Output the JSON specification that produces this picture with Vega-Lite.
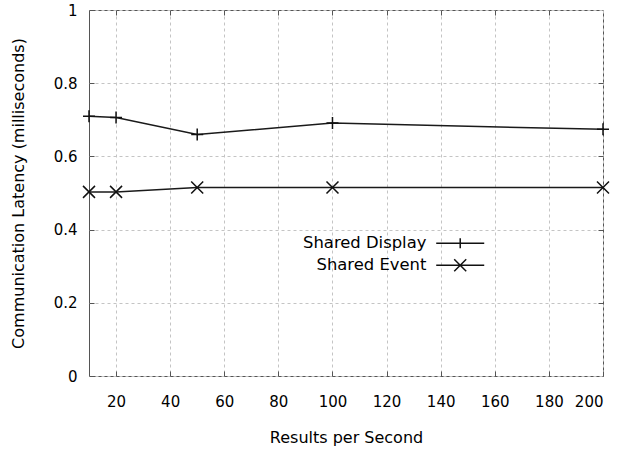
{
  "$schema": "https://vega.github.io/schema/vega-lite/v6.json",
  "width": 514,
  "height": 366,
  "autosize": {"type": "none"},
  "padding": {"left": 89, "top": 10, "right": 19, "bottom": 73},
  "background": "white",
  "config": {
    "font": "DejaVu Sans",
    "view": {"stroke": "#555", "strokeWidth": 1},
    "axis": {
      "grid": false,
      "gridColor": "#c4c4c4",
      "gridDash": [3, 3],
      "gridWidth": 1,
      "domain": false,
      "tickColor": "#555",
      "labelColor": "#000",
      "labelFontSize": 15,
      "titleFontSize": 16,
      "titleFontWeight": "normal",
      "titleColor": "#000"
    }
  },
  "data": {
    "values": [
      {"rate": 10, "latency": 0.710, "series": "Shared Display"},
      {"rate": 20, "latency": 0.706, "series": "Shared Display"},
      {"rate": 50, "latency": 0.660, "series": "Shared Display"},
      {"rate": 100, "latency": 0.691, "series": "Shared Display"},
      {"rate": 200, "latency": 0.674, "series": "Shared Display"},
      {"rate": 10, "latency": 0.503, "series": "Shared Event"},
      {"rate": 20, "latency": 0.503, "series": "Shared Event"},
      {"rate": 50, "latency": 0.515, "series": "Shared Event"},
      {"rate": 100, "latency": 0.515, "series": "Shared Event"},
      {"rate": 200, "latency": 0.515, "series": "Shared Event"}
    ]
  },
  "resolve": {
    "axis": {"x": "independent", "y": "independent"},
    "scale": {"shape": "independent"}
  },
  "layer": [
    {
      "mark": {"type": "line", "color": "#1a1a1a", "strokeWidth": 1.5},
      "encoding": {
        "x": {
          "field": "rate",
          "type": "quantitative",
          "scale": {"domain": [10, 200], "nice": false, "zero": false},
          "axis": {
            "title": "Results per Second",
            "values": [20, 40, 60, 80, 100, 120, 140, 160, 180, 200],
            "grid": true,
            "tickSize": -5,
            "labelPadding": 23,
            "titlePadding": 20
          }
        },
        "y": {
          "field": "latency",
          "type": "quantitative",
          "scale": {"domain": [0, 1], "nice": false},
          "axis": {
            "title": "Communication Latency (milliseconds)",
            "values": [0, 0.2, 0.4, 0.6, 0.8, 1],
            "format": "~g",
            "grid": true,
            "tickSize": -5,
            "labelPadding": 17,
            "titlePadding": 27
          }
        },
        "detail": {"field": "series"}
      }
    },
    {
      "mark": {"type": "point", "filled": false, "color": "#111", "strokeWidth": 1.5, "size": 144, "opacity": 1},
      "encoding": {
        "x": {"field": "rate", "type": "quantitative", "axis": null},
        "y": {"field": "latency", "type": "quantitative", "axis": null},
        "shape": {
          "field": "series",
          "type": "nominal",
          "scale": {
            "domain": ["Shared Display", "Shared Event"],
            "range": ["M-1,0H1M0,-1V1", "M-1,-1L1,1M-1,1L1,-1"]
          },
          "legend": null
        }
      }
    },
    {
      "transform": [{"filter": "false"}],
      "mark": {"type": "point", "filled": false, "color": "#111", "strokeWidth": 1.5, "opacity": 1},
      "encoding": {
        "x": {"field": "rate", "type": "quantitative", "axis": null},
        "y": {"field": "latency", "type": "quantitative", "axis": null},
        "shape": {
          "field": "series",
          "type": "nominal",
          "scale": {
            "domain": ["Shared Display", "Shared Event"],
            "range": ["M3.67,0H11.67M7.67,-0.83V0.83", "M3.67,0H11.67M6.67,-1L8.67,1M6.67,1L8.67,-1"]
          },
          "legend": {
            "orient": "none",
            "legendX": 317,
            "legendY": 225,
            "title": null,
            "labelFontSize": 16.4,
            "labelColor": "#000",
            "labelAlign": "right",
            "symbolSize": 144,
            "symbolStrokeWidth": 1.5,
            "symbolStrokeColor": "#111",
            "symbolFillColor": "transparent",
            "symbolOpacity": 1,
            "rowPadding": 4
          }
        }
      }
    },
    {
      "transform": [{"filter": "false"}],
      "mark": {"type": "point", "opacity": 0},
      "encoding": {
        "x": {
          "field": "rate",
          "type": "quantitative",
          "axis": {"orient": "top", "values": [20, 40, 60, 80, 100, 120, 140, 160, 180], "labels": false, "title": null, "tickSize": -5}
        },
        "y": {
          "field": "latency",
          "type": "quantitative",
          "axis": {"orient": "right", "values": [0.2, 0.4, 0.6, 0.8], "labels": false, "title": null, "tickSize": -5}
        }
      }
    }
  ]
}
